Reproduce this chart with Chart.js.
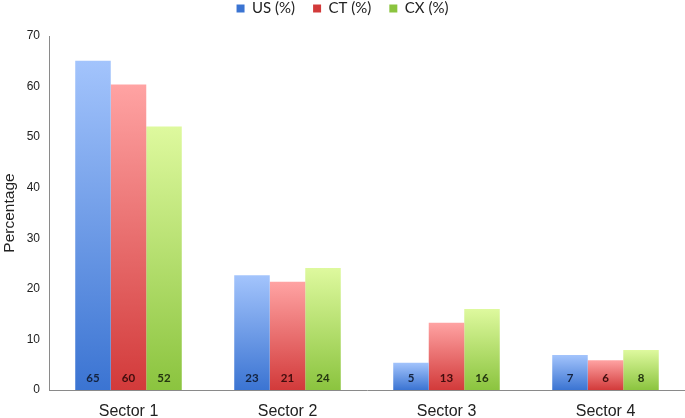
<!DOCTYPE html>
<html>
<head>
<meta charset="utf-8">
<script src="https://cdn.jsdelivr.net/npm/chart.js@4.4.1/dist/chart.umd.min.js"></script>
<style>
  html, body { margin: 0; padding: 0; background: #fff; }
  #wrap { width: 685px; height: 418px; position: relative; }
</style>
</head>
<body>
<div id="wrap"><canvas id="barChart"></canvas></div>
<script>
// values
const sectors = ['Sector 1', 'Sector 2', 'Sector 3', 'Sector 4'];
const usValues = [65.1, 22.7, 5.4, 6.9];
const ctValues = [60.4, 21.4, 13.3, 5.9];
const cxValues = [52.1, 24.1, 16.0, 7.9];
const yTicks = [0, 10, 20, 30, 40, 50, 60, 70];

// light top -> dark bottom for each series
const palette = {
  us: { top: '#a3c4fc', bottom: '#3b74d2', text: '#14233f' },
  ct: { top: '#ffa3a3', bottom: '#d23a3a', text: '#3f0d0d' },
  cx: { top: '#def99e', bottom: '#8bc43f', text: '#243510' }
};

function barGradient(colors) {
  return (ctx) => {
    const chart = ctx.chart;
    const y = chart.scales.y;
    if (!chart.chartArea || !y || ctx.raw == null) return colors.bottom;
    const top = y.getPixelForValue(ctx.raw);
    const base = y.getPixelForValue(0);
    if (!isFinite(top) || !isFinite(base) || base - top < 1) return colors.bottom;
    const g = chart.ctx.createLinearGradient(0, top, 0, base);
    g.addColorStop(0, colors.top);
    g.addColorStop(1, colors.bottom);
    return g;
  };
}

// value labels at the foot of every bar
const footLabels = {
  id: 'footLabels',
  afterDatasetsDraw(chart) {
    const ctx = chart.ctx;
    ctx.save();
    ctx.font = 'bold 11.5px Lato, "Open Sans", sans-serif';
    ctx.textAlign = 'center';
    ctx.textBaseline = 'middle';
    chart.data.datasets.forEach((ds, i) => {
      const meta = chart.getDatasetMeta(i);
      meta.data.forEach((bar, j) => {
        ctx.fillStyle = ds.labelColor;
        ctx.fillText(String(Math.round(ds.data[j])), bar.x, bar.base - 12);
      });
    });
    ctx.restore();
  }
};

// keep the legend box a fixed height so the plot starts where the original does
const legendHeight = {
  id: 'legendHeight',
  beforeUpdate(chart) {
    const lg = chart.legend;
    if (lg && !lg._fixedFit) {
      const fit = lg.fit;
      lg.fit = function () {
        fit.call(this);
        if (this.isHorizontal()) this.height = 53;
      };
      lg._fixedFit = true;
    }
  }
};

const makeSet = (label, data, colors) => ({
  label: label,
  data: data,
  backgroundColor: barGradient(colors),
  labelColor: colors.text,
  borderWidth: 0,
  categoryPercentage: 0.67,
  barPercentage: 1.0
});

new Chart(document.getElementById('barChart'), {
  type: 'bar',
  data: {
    labels: sectors,
    datasets: [
      makeSet('US (%)', usValues, palette.us),
      makeSet('CT (%)', ctValues, palette.ct),
      makeSet('CX (%)', cxValues, palette.cx)
    ]
  },
  options: {
    responsive: true,
    maintainAspectRatio: false,
    animation: false,
    layout: { padding: { left: 0, right: 0, top: -17, bottom: 0 } },
    plugins: {
      legend: {
        position: 'top',
        labels: {
          boxWidth: 8,
          boxHeight: 8,
          padding: 18,
          color: '#222',
          font: { family: 'Lato, "Open Sans", sans-serif', size: 15 },
          generateLabels(chart) {
            return chart.data.datasets.map((ds, i) => {
              const key = ['us', 'ct', 'cx'][i];
              return {
                text: ds.label,
                fillStyle: palette[key].bottom,
                strokeStyle: palette[key].bottom,
                lineWidth: 0,
                datasetIndex: i,
                fontColor: '#222'
              };
            });
          }
        }
      },
      tooltip: { enabled: false }
    },
    scales: {
      x: {
        grid: { display: false, drawTicks: false },
        border: { display: true, color: '#8a8a8a', width: 1 },
        ticks: {
          color: '#222',
          padding: 12,
          font: { family: '"Liberation Sans", Arial, sans-serif', size: 16 }
        },
        afterFit(scale) { scale.height = 28; }
      },
      y: {
        min: 0,
        max: 70,
        grid: { display: false, drawTicks: false },
        border: { display: true, color: '#8a8a8a', width: 1 },
        afterBuildTicks(scale) { scale.ticks = yTicks.map(v => ({ value: v })); },
        ticks: {
          color: '#222',
          padding: 9,
          font: { family: '"Liberation Sans", Arial, sans-serif', size: 12 }
        },
        title: {
          display: true,
          text: 'Percentage',
          color: '#222',
          padding: 0,
          font: { family: '"Liberation Sans", Arial, sans-serif', size: 15.5 }
        },
        afterFit(scale) { scale.width = 49; }
      }
    }
  },
  plugins: [footLabels, legendHeight]
});
</script>
</body>
</html>
